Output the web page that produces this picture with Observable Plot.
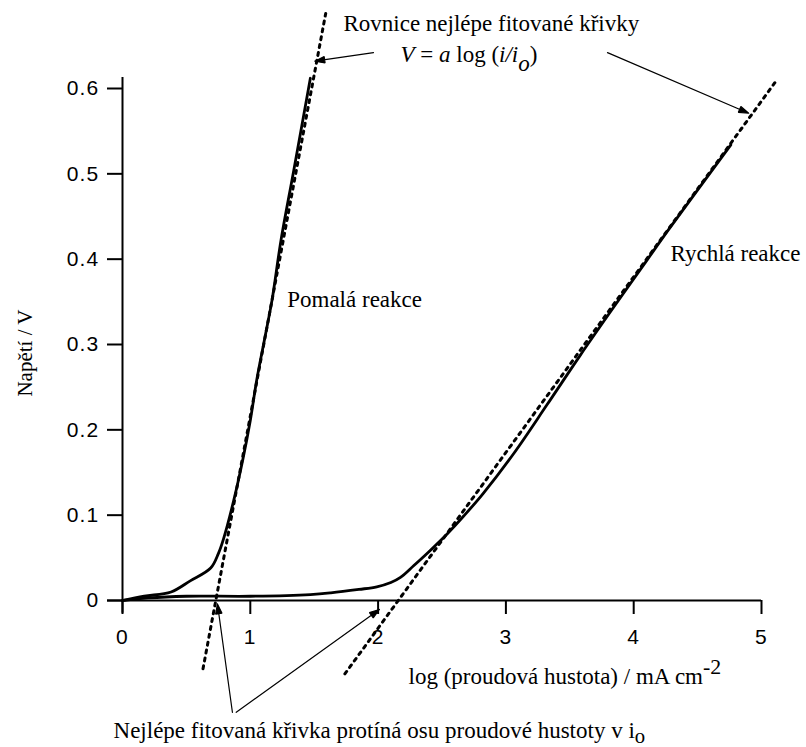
<!DOCTYPE html>
<html>
<head>
<meta charset="utf-8">
<script src="https://cdn.jsdelivr.net/npm/d3@7"></script>
<script src="https://cdn.jsdelivr.net/npm/@observablehq/plot@0.6"></script>
<style>
  html, body { margin: 0; padding: 0; background: #fff; }
  #chart svg { display: block; }
</style>
</head>
<body>
<div id="chart"></div>
<script>
// ---- data ----
const xTicks = [0, 1, 2, 3, 4, 5];
const xTickLabels = ["0", "1", "2", "3", "4", "5"];
const yTicks = [0, 0.1, 0.2, 0.3, 0.4, 0.5, 0.6];
const yTickLabels = ["0", "0.1", "0.2", "0.3", "0.4", "0.5", "0.6"];

// Pomalá reakce (slow reaction) measured curve: [log i, V]
const slowCurve = [
  [0, 0], [0.17, 0.005], [0.38, 0.01], [0.53, 0.023], [0.69, 0.038],
  [0.75, 0.055], [0.79, 0.072], [0.87, 0.117], [0.94, 0.164], [1.0, 0.211],
  [1.05, 0.258], [1.11, 0.305], [1.17, 0.352], [1.24, 0.422], [1.34, 0.504],
  [1.47, 0.612]
];
// Rychlá reakce (fast reaction) measured curve
const fastCurve = [
  [0, 0], [0.2, 0.003], [0.5, 0.005], [1.0, 0.005], [1.47, 0.007],
  [1.63, 0.009], [1.85, 0.013], [1.99, 0.016], [2.1, 0.021], [2.175, 0.027],
  [2.28, 0.041], [2.41, 0.059], [2.54, 0.078], [2.67, 0.099], [2.82, 0.125],
  [3.06, 0.172], [3.32, 0.229], [3.58, 0.287], [3.84, 0.343], [4.1, 0.398],
  [4.27, 0.434], [4.76, 0.534]
];
// best-fit lines V = a log(i/io) (end points)
const slowFit = [[0.63, -0.08], [1.59, 0.688]];
const fastFit = [[1.74, -0.086], [5.12, 0.61]];

// annotation texts
const titleTop = "Rovnice nejlépe fitované křivky";
const equation = "V = a log (i/io)";
const slowLabel = "Pomalá reakce";
const fastLabel = "Rychlá reakce";
const xTitle = "log (proudová hustota) / mA cm-2";
const yTitle = "Napětí / V";
const bottomNote = "Nejlépe fitovaná křivka protíná osu proudové hustoty v io";

// annotation anchors (data coordinates)
const annotations = [
  {text: titleTop,  x: 1.729, y: 0.667},
  {text: equation,  x: 2.175, y: 0.6305},
  {text: slowLabel, x: 1.289, y: 0.3438},
  {text: fastLabel, x: 4.288, y: 0.398},
  {text: xTitle,    x: 2.238, y: -0.0977},
  {text: bottomNote, x: -0.07, y: -0.1606}
];
const arrows = [
  {x1: 1.964, y1: 0.642, x2: 1.505, y2: 0.632},
  {x1: 3.795, y1: 0.642, x2: 4.90, y2: 0.571},
  {x1: 0.86, y1: -0.131, x2: 0.743, y2: -0.004},
  {x1: 0.89, y1: -0.131, x2: 2.01, y2: -0.0105}
];

const serif = "'Liberation Serif', 'Times New Roman', Times, serif";
const sans = "'Liberation Sans', Arial, Helvetica, sans-serif";

const chart = Plot.plot({
  width: 806,
  height: 747,
  marginLeft: 122,
  marginRight: 45,
  marginTop: 88,
  marginBottom: 147,
  x: {domain: [0, 5]},
  y: {domain: [0, 0.6]},
  style: {fontFamily: sans, color: "#000", background: "#fff"},
  marks: [
    Plot.axisX(xTicks, {tickSize: 14, tickPadding: 15, fontSize: 21, strokeWidth: 2,
      tickFormat: (d, i) => xTickLabels[i], label: null}),
    Plot.axisY(yTicks, {tickSize: 15, tickPadding: 8, fontSize: 21, strokeWidth: 2,
      tickFormat: (d, i) => yTickLabels[i], label: null}),
    Plot.ruleX([0], {y1: -0.015, y2: 0.613, strokeWidth: 2}),
    Plot.ruleY([0], {x1: -0.117, x2: 5, strokeWidth: 2}),
    Plot.line(slowFit, {x: d => d[0], y: d => d[1], strokeWidth: 3, strokeDasharray: "3,5"}),
    Plot.line(fastFit, {x: d => d[0], y: d => d[1], strokeWidth: 3, strokeDasharray: "3,5"}),
    Plot.line(slowCurve, {x: d => d[0], y: d => d[1], strokeWidth: 2.8, curve: "catmull-rom"}),
    Plot.line(fastCurve, {x: d => d[0], y: d => d[1], strokeWidth: 2.8, curve: "catmull-rom"}),
    Plot.arrow(arrows, {x1: "x1", y1: "y1", x2: "x2", y2: "y2", strokeWidth: 1.2,
      headLength: 13, headAngle: 36}),
    Plot.text(annotations, {x: "x", y: "y", text: "text", textAnchor: "start",
      lineAnchor: "bottom", fontSize: 23, fill: "#000"}),
    Plot.text([yTitle], {x: -0.76, y: 0.29, text: d => d, rotate: -90,
      fontSize: 21, fill: "#000"})
  ]
});

document.getElementById("chart").appendChild(chart);

const svg = d3.select(chart);

// tick label font: slightly wider spacing like the reference
svg.selectAll('g[aria-label="x-axis tick label"] text, g[aria-label="y-axis tick label"] text')
  .style("font-family", sans)
  .style("letter-spacing", "1.2px");

// serif text for titles and annotations
svg.selectAll('g[aria-label="text"] text').style("font-family", serif);

// filled arrow heads
svg.selectAll('g[aria-label="arrow"] path').each(function () {
  const p = d3.select(this);
  p.attr("d", p.attr("d") + "Z").attr("fill", "#000").attr("stroke-linejoin", "miter");
});

// rich text: italics, sub/superscripts
svg.selectAll("text").each(function () {
  const t = d3.select(this);
  const s = this.textContent;
  if (s === xTitle) {
    t.text(null);
    t.append("tspan").text("log (proudová hustota) / mA cm");
    t.append("tspan").attr("dy", "-0.45em").attr("font-size", "0.95em").text("-2");
  } else if (s === bottomNote) {
    t.text(null);
    t.append("tspan").text("Nejlépe fitovaná křivka protíná osu proudové hustoty v i");
    t.append("tspan").attr("dy", "0.25em").attr("font-size", "0.9em").text("o");
  } else if (s === equation) {
    t.text(null);
    t.append("tspan").attr("font-style", "italic").text("V");
    t.append("tspan").text(" = ");
    t.append("tspan").attr("font-style", "italic").text("a");
    t.append("tspan").text(" log (");
    t.append("tspan").attr("font-style", "italic").text("i/i");
    t.append("tspan").attr("font-style", "italic").attr("dy", "0.35em").text("o");
    t.append("tspan").attr("dy", "-0.35em").text(")");
  }
});
</script>
</body>
</html>
